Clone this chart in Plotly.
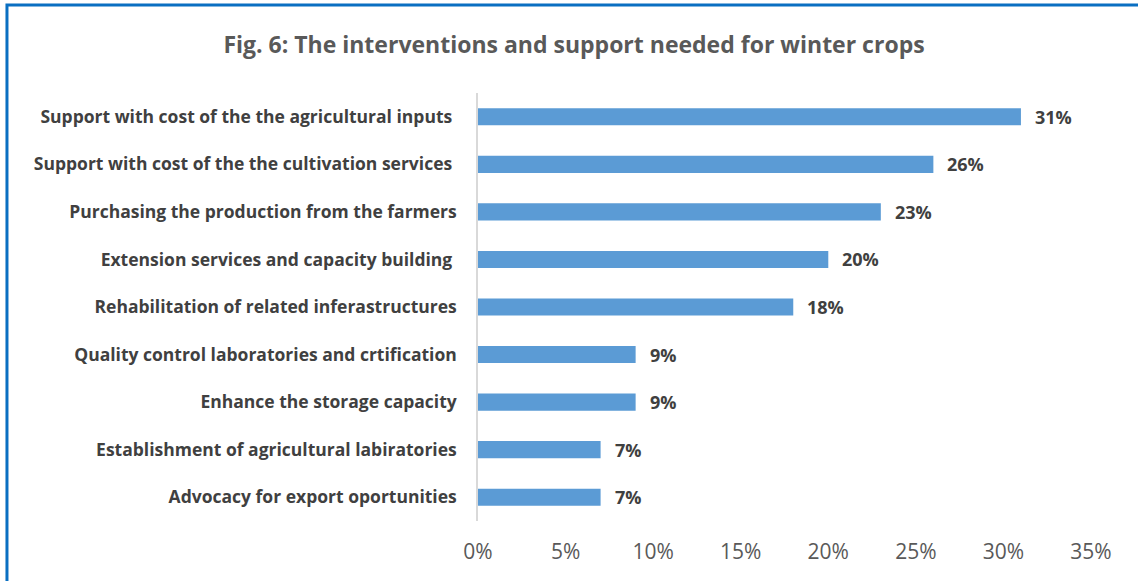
import plotly.graph_objects as go

# Interventions and share of respondents (percent)
categories = [
    "Support with cost of the the agricultural inputs\u00a0",
    "Support with cost of the the cultivation services\u00a0",
    "Purchasing the production from the farmers",
    "Extension services and capacity building\u00a0",
    "Rehabilitation of related inferastructures",
    "Quality control laboratories and crtification",
    "Enhance the storage capacity",
    "Establishment of agricultural labiratories",
    "Advocacy for export oportunities",
]
values = [31, 26, 23, 20, 18, 9, 9, 7, 7]
tick_vals = [0, 5, 10, 15, 20, 25, 30, 35]
tick_text = [f"{t}%" for t in tick_vals]

title_text = "Fig. 6: The interventions and support needed for winter crops"

FONT = "Open Sans"
BAR = "#5B9BD5"
LABEL = "#404040"
TICK = "#595959"

fig = go.Figure()
fig.add_trace(go.Bar(
    x=values,
    y=categories,
    orientation="h",
    marker=dict(color=BAR, line=dict(width=0)),
    width=0.36,
    hoverinfo="skip",
))

# Value labels placed just right of each bar end
for cat, v in zip(categories, values):
    fig.add_annotation(
        x=v, y=cat, text=f"<b>{v}%</b>", showarrow=False,
        xanchor="left", yanchor="middle", xshift=12,
        font=dict(family=FONT, size=18, color=LABEL),
    )

fig.update_layout(
    width=1138,
    height=581,
    margin=dict(l=478, r=47, t=93, b=60),
    paper_bgcolor="white",
    plot_bgcolor="white",
    showlegend=False,
    title=dict(
        text=f"<b>{title_text}</b>",
        x=574 / 1138, xanchor="center",
        y=1 - 45 / 581, yanchor="middle",
        xref="container", yref="container",
        font=dict(family=FONT, size=23, color=TICK),
    ),
    xaxis=dict(
        range=[0, 35],
        tickvals=tick_vals,
        ticktext=tick_text,
        showgrid=False,
        zeroline=False,
        showline=False,
        ticks="",
        ticklabelstandoff=16,
        tickfont=dict(family=FONT, size=21, color=TICK),
        fixedrange=True,
    ),
    yaxis=dict(
        autorange="reversed",
        showgrid=False,
        zeroline=False,
        showline=True,
        linecolor="#D9D9D9",
        linewidth=1.5,
        ticks="",
        ticklabelstandoff=16,
        tickfont=dict(family=FONT, size=17.5, color=LABEL),
        tickprefix="<b>",
        ticksuffix="</b>",
        fixedrange=True,
    ),
    shapes=[
        # Frame border along the left and top edges
        dict(
            type="path", xref="paper", yref="paper",
            path="M -0.7684,-0.2 L -0.7684,1.2056 L 1.2,1.2056",
            line=dict(color="#0A6FC2", width=3),
        )
    ],
)

fig.write_html("out.html")
